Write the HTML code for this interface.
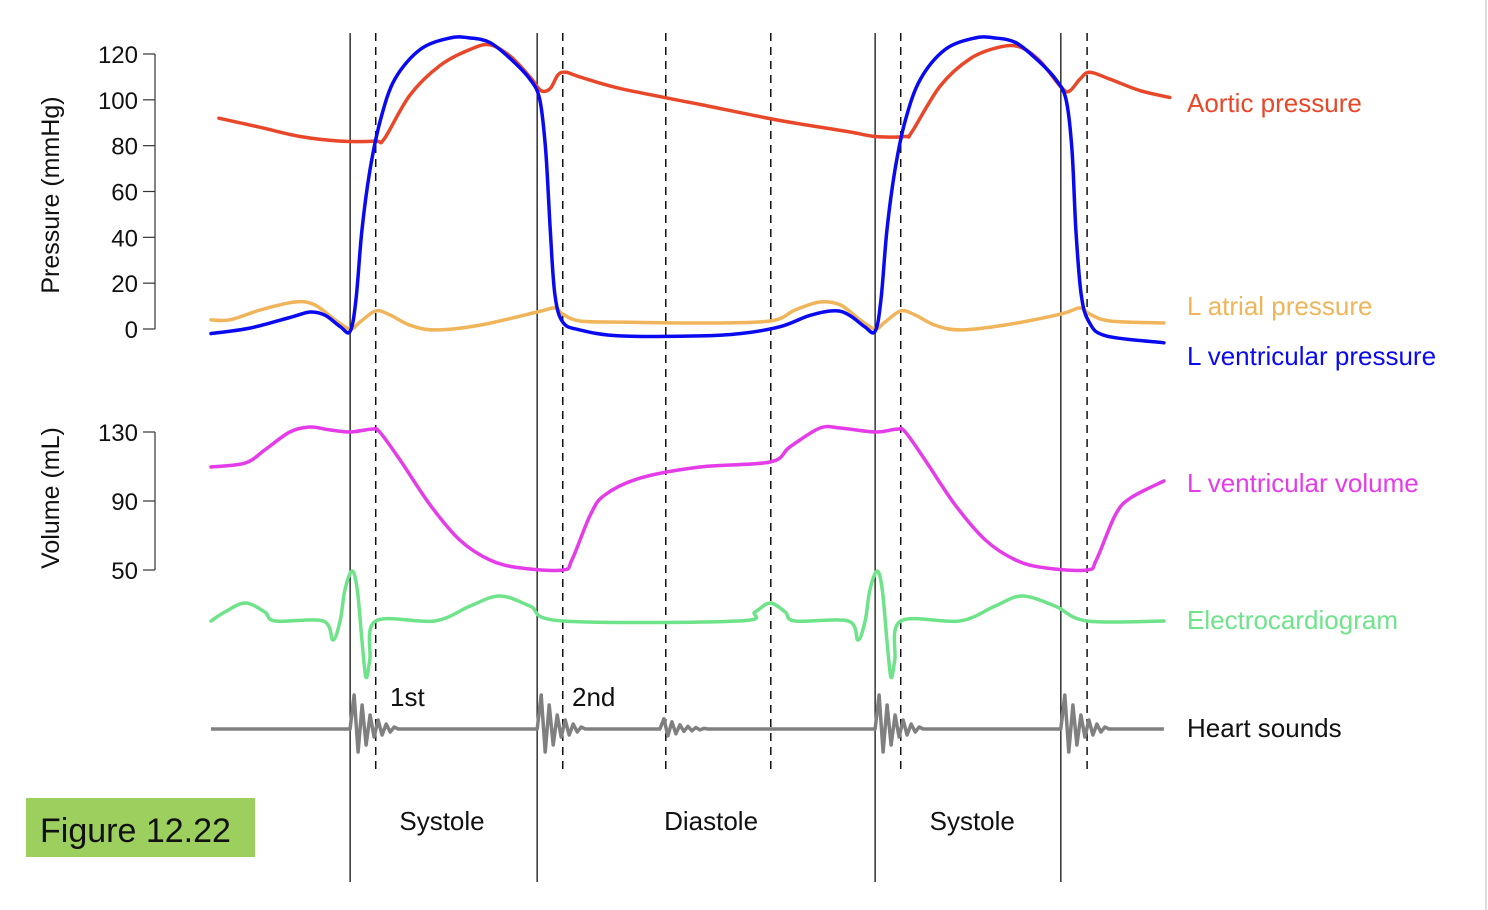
<!DOCTYPE html>
<html><head><meta charset="utf-8"><style>
html,body{margin:0;padding:0;background:#fff;}
svg{display:block;font-family:"Liberation Sans",Arial,sans-serif;}
</style></head><body>
<svg id="chart" width="1488" height="910" viewBox="0 0 1488 910" xmlns="http://www.w3.org/2000/svg">
<line x1="1486" y1="0" x2="1486" y2="910" stroke="#ddd" stroke-width="2"/>
<g id="axes"></g>
<g id="guides"></g>
<g id="series"></g>
<g id="labels"></g>
<rect x="26" y="798" width="229" height="59" fill="#9ccf5e"/>
<text x="40" y="842" font-size="34" fill="#111">Figure 12.22</text>
</svg>
<script>
// time in ms
const aorticT=[12,75,136,197,251,264,303,349,395,425,456,486,503,517,529,541,562,623,745,867,973,1012,1058,1068,1111,1157,1202,1233,1263,1297,1309,1324,1339,1370,1416,1461];
const aorticP=[92,88,84,82,82,83,102,115,122,124,119,110,104,105,111,112,110,105,98,91,86,84,84,86,106,118,123,123,117,105,104,109,112,109,104,101];
const lvT=[0,59,120,151,174,197,212,221,230,242,258,280,319,364,395,425,456,486,501,510,517,524,536,562,623,745,806,867,913,951,973,996,1012,1021,1030,1042,1058,1081,1119,1164,1195,1226,1257,1287,1303,1312,1318,1326,1338,1364,1452];
const lvP=[-2,0.4,5,7.4,6,1,-1,13,43,69,91,109,122,127,127,125,118,109,100,78,43,15,3,-0.4,-3,-3,-2,1,6,8,6,1,-1,13,43,69,91,109,122,127,127,125,118,109,100,78,43,15,3,-3,-6];
const laT=[0,29,75,128,158,189,212,227,251,273,303,341,410,497,524,536,562,623,745,852,890,928,959,989,1012,1027,1051,1073,1103,1141,1209,1295,1324,1339,1370,1452];
const laP=[4,4,8.3,11.8,10.5,4,0,3,7.9,6.1,1.7,-0.4,1.7,7.4,9.2,6.5,3.5,3,2.6,3.5,8.3,11.8,10.5,4,0,3,7.9,6.1,1.7,-0.4,1.7,6.5,9.2,6.5,3.5,2.6];
const volT=[0,52,82,120,151,181,212,245,257,288,334,379,425,471,536,550,578,600,654,745,852,882,928,959,1012,1046,1058,1088,1134,1180,1226,1271,1335,1349,1378,1401,1452];
const volV=[109.7,112,119.6,130,132.9,131.2,130,131.7,130,113.8,87.7,67.4,55.8,51.2,50,55.8,81.9,93.5,103.3,109.7,112.6,121.3,132.3,132.3,130,131.7,130,113.8,87.7,67.4,55.8,51.2,50,55.8,81.9,91.7,101.6];
const ecgT=[0,21,52,82,98,171,186,197,204,215,223,230,236,242,251,341,395,440,486,536,803,829,852,875,890,971,986,997,1004,1015,1023,1030,1036,1042,1051,1141,1195,1236,1286,1335,1452];
const ecgV=[0,0.18,0.36,0.18,0,0,-0.38,0.02,0.62,1.0,0.62,-0.38,-1.12,-0.78,0,0,0.3,0.5,0.3,0,0,0.18,0.36,0.18,0,0,-0.38,0.02,0.62,1.0,0.62,-0.38,-1.12,-0.78,0,0,0.3,0.5,0.3,0,0];
const soundOnsetT=[212,497,684,1012,1295];
const soundScale=[1,1,0.3,1,1];
const soundTemplate=[0,34,-23,24,-16,14,-8,9,-6,5,-3,2,0];
const pTicks=[0,20,40,60,80,100,120];
const vTicks=[50,90,130];
const solidT=[212,497,1012,1295];
const dashedT=[251,536,693,853,1051,1335];
const phaseLabels=["Systole","Diastole","Systole"];
const phaseCenterT=[352,762,1160];

const NS="http://www.w3.org/2000/svg";
const X=t=>211+t*0.65625;
const YP=p=>329-p*(275/120);
const YV=v=>570-(v-50)*(138/80);
const YE=v=>621-v*50;
const YS=a=>729-a;
function mk(tag,attrs,parent){const e=document.createElementNS(NS,tag);for(const k in attrs)e.setAttribute(k,attrs[k]);parent.appendChild(e);return e;}
function spline(pts){let d=`M${pts[0][0]},${pts[0][1]}`;for(let i=0;i<pts.length-1;i++){const p0=pts[Math.max(0,i-1)],p1=pts[i],p2=pts[i+1],p3=pts[Math.min(pts.length-1,i+2)];const c1x=p1[0]+(p2[0]-p0[0])/6,c1y=p1[1]+(p2[1]-p0[1])/6,c2x=p2[0]-(p3[0]-p1[0])/6,c2y=p2[1]-(p3[1]-p1[1])/6;d+=` C${c1x.toFixed(1)},${c1y.toFixed(1)} ${c2x.toFixed(1)},${c2y.toFixed(1)} ${p2[0].toFixed(1)},${p2[1].toFixed(1)}`;}return d;}
const axes=document.getElementById('axes'),guides=document.getElementById('guides'),series=document.getElementById('series'),labels=document.getElementById('labels');

// axes
let a=mk('line',{x1:155,y1:YP(120),x2:155,y2:YP(0),stroke:'#333','stroke-width':1.2},axes);


pTicks.forEach(p=>{let l=mk('line',{x1:143,y1:YP(p),x2:155,y2:YP(p),stroke:'#333','stroke-width':1.2},axes);


let t=mk('text',{x:138,y:YP(p)+9,'font-size':24,'text-anchor':'end',fill:'#111'},axes);t.textContent=p;

});
a=mk('line',{x1:155,y1:YV(130),x2:155,y2:YV(50),stroke:'#333','stroke-width':1.2},axes);


vTicks.forEach(v=>{let l=mk('line',{x1:143,y1:YV(v),x2:155,y2:YV(v),stroke:'#333','stroke-width':1.2},axes);


let t=mk('text',{x:138,y:YV(v)+9,'font-size':24,'text-anchor':'end',fill:'#111'},axes);t.textContent=v;

});
let yt=mk('text',{x:0,y:0,'font-size':25,'text-anchor':'middle',fill:'#111',transform:'translate(59,195) rotate(-90)'},axes);yt.textContent='Pressure (mmHg)';


yt=mk('text',{x:0,y:0,'font-size':25,'text-anchor':'middle',fill:'#111',transform:'translate(59,498) rotate(-90)'},axes);yt.textContent='Volume (mL)';



// guides
solidT.forEach(t=>{let l=mk('line',{x1:X(t),y1:33,x2:X(t),y2:882,stroke:'#111','stroke-width':1.3},guides);

});
dashedT.forEach(t=>{let l=mk('line',{x1:X(t),y1:33,x2:X(t),y2:775,stroke:'#111','stroke-width':1.5,'stroke-dasharray':'8,6'},guides);

});

function draw(ts,vs,ys,color,name,w){const pts=ts.map((t,i)=>[X(t),ys(vs[i])]);let p=mk('path',{d:spline(pts),fill:'none',stroke:color,'stroke-width':w||3.5,'stroke-linejoin':'round','stroke-linecap':'round'},series);

}
draw(ecgT,ecgV,YE,'#6ee38a','ecg-line');
// heart sounds
const sT=[],sV=[];sT.push(0);sV.push(0);
soundOnsetT.forEach((o,j)=>{soundTemplate.forEach((v,k)=>{sT.push(o+k*6.1);sV.push(v*soundScale[j]);});});
sT.push(1452);sV.push(0);
(function(){let d='';sT.forEach((t,i)=>{d+=(i?' L':'M')+X(t).toFixed(1)+','+YS(sV[i]).toFixed(1);});let p=mk('path',{d:d,fill:'none',stroke:'#808080','stroke-width':3.5,'stroke-linejoin':'round'},series);

})();
draw(volT,volV,YV,'#e43ce8','lv-volume-line');
draw(aorticT,aorticP,YP,'#e8472a','aortic-pressure-line');
draw(laT,laP,YP,'#f0b55b','atrial-pressure-line');
draw(lvT,lvP,YP,'#0a0af0','lv-pressure-line');

// labels
const lab=[['Aortic pressure',112,'#e8472a','aortic-label'],['L atrial pressure',315,'#f0b55b','atrial-label'],['L ventricular pressure',365,'#0a0af0','lv-pressure-label'],['L ventricular volume',492,'#e43ce8','lv-volume-label'],['Electrocardiogram',629,'#6ee38a','ecg-label'],['Heart sounds',737,'#111','heart-sounds-label']];
lab.forEach(l=>{let t=mk('text',{x:1187,y:l[1],'font-size':26,fill:l[2]},labels);t.textContent=l[0];

});
phaseLabels.forEach((s,i)=>{let t=mk('text',{x:X(phaseCenterT[i]),y:830,'font-size':26,'text-anchor':'middle',fill:'#111'},labels);t.textContent=s;

});
let s1=mk('text',{x:390,y:706,'font-size':26,fill:'#111'},labels);s1.textContent='1st';


let s2=mk('text',{x:572,y:706,'font-size':26,fill:'#111'},labels);s2.textContent='2nd';


</script>
</body></html>
